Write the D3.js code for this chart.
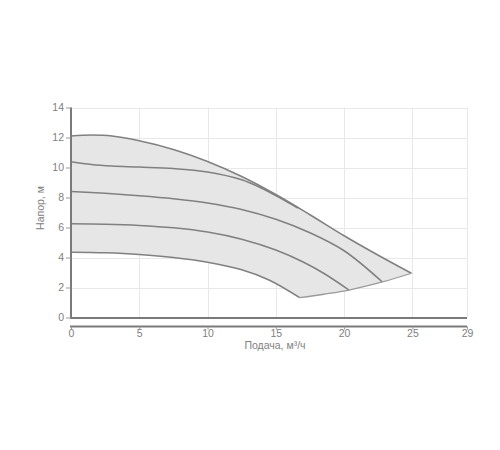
<!DOCTYPE html>
<html><head><meta charset="utf-8">
<script src="https://cdn.jsdelivr.net/npm/d3@7"></script>
<style>body{margin:0;background:#fff;} svg{display:block;font-family:"Liberation Sans",Arial,sans-serif;}</style>
</head><body><svg id="c" width="500" height="450"></svg>
<script>
// Data (flow m³/h, head m)
const xTicks = [0,5,10,15,20,25,29];
const yTicks = [0,2,4,6,8,10,12,14];
const curveTop = [[0,12.1],[1.5,12.16],[3,12.1],[5,11.78],[7.5,11.2],[10,10.4],[12.5,9.4],[15,8.2],[17.5,6.85],[20,5.45],[22.5,4.15],[24.93,2.95]];
const curve2 = [[0,10.38],[1.5,10.2],[3,10.1],[5,10.03],[7.5,9.93],[10,9.7],[12.5,9.18],[14,8.6],[15.5,7.87],[16.6,7.3]];
const curve3 = [[0,8.4],[2.5,8.28],[5,8.12],[7.5,7.92],[10,7.64],[12.5,7.2],[15,6.55],[17.5,5.65],[20,4.45],[22.8,2.37]];
const curve4 = [[0,6.25],[2.5,6.22],[5,6.14],[7.5,5.98],[10,5.7],[12.5,5.22],[15,4.5],[17,3.7],[18.5,2.95],[20.36,1.83]];
const curve5 = [[0,4.35],[2.5,4.31],[5,4.2],[7.5,4.0],[10,3.68],[12.5,3.18],[14.5,2.5],[16.75,1.32]];
const curveBottom = [[16.75,1.32],[18.5,1.55],[20.36,1.83],[22.8,2.37],[24.93,2.95]];
const xTitle = "Подача, м³/ч";
const yTitle = "Напор, м";

const svg = d3.select("#c");
const x = d3.scaleLinear().domain([0,29]).range([71,467]);
const y = d3.scaleLinear().domain([0,14]).range([317.5,107.5]);

// grid
const grid = svg.append("g").attr("stroke","#e8e8e8").attr("stroke-width",1);
grid.selectAll("line.h").data(yTicks.filter(d=>d>0)).join("line")
  .attr("x1",x(0)).attr("x2",x(29)).attr("y1",d=>Math.round(y(d))+0.5).attr("y2",d=>Math.round(y(d))+0.5);
grid.selectAll("line.v").data(xTicks.filter(d=>d>0)).join("line")
  .attr("x1",d=>Math.round(x(d))+0.5).attr("x2",d=>Math.round(x(d))+0.5).attr("y1",y(14)).attr("y2",y(0));

const line = d3.line().x(d=>x(d[0])).y(d=>y(d[1])).curve(d3.curveCatmullRom.alpha(0.5));
function sample(pts){
  const path = document.createElementNS("http://www.w3.org/2000/svg","path");
  path.setAttribute("d", line(pts));
  svg.node().appendChild(path);
  const L = path.getTotalLength(); const out=[];
  for(let i=0;i<=200;i++){const p=path.getPointAtLength(L*i/200); out.push([p.x,p.y]);}
  path.remove(); return out;
}
const poly = [[x(0),y(0)]].concat(sample(curveTop), sample(curveBottom).reverse(), sample(curve5).reverse());
svg.append("path").attr("d","M"+poly.map(p=>p.join(",")).join("L")+"Z").attr("fill","#e6e6e6");

// curves
const lines = svg.append("g").attr("fill","none").attr("stroke","#808080").attr("stroke-width",1.5);
[curve2, curve3, curve4, curve5, curveTop].forEach(c=>lines.append("path").attr("d",line(c)));
lines.append("path").attr("d",line(curveBottom)).attr("stroke","#9a9a9a").attr("stroke-width",1.3);

// plot bottom line and y axis
svg.append("line").attr("x1",x(0)-1).attr("x2",x(29)).attr("y1",318).attr("y2",318).attr("stroke","#7a7a7a").attr("stroke-width",2);

const yAxis = svg.append("g").attr("transform",`translate(${x(0)},0)`)
  .call(d3.axisLeft(y).tickValues(yTicks).tickSize(5).tickPadding(2));
yAxis.select(".domain").attr("d",`M0,${y(14)}V${y(0)+1}`).attr("stroke","#7a7a7a").attr("stroke-width",2);
yAxis.selectAll(".tick line").attr("stroke","#999");
yAxis.selectAll("text").attr("fill","#808080").attr("font-size","10.5px").attr("font-family","Liberation Sans, Arial, sans-serif");

const xAxis = svg.append("g").attr("transform","translate(0,326.5)")
  .call(d3.axisBottom(x).tickValues(xTicks).tickSize(3).tickPadding(0));
xAxis.select(".domain").attr("d",`M${x(0)-1},0H${x(29)}`).attr("stroke","#7a7a7a").attr("stroke-width",2);
xAxis.selectAll(".tick line").attr("stroke","#999");
xAxis.selectAll("text").attr("fill","#808080").attr("font-size","10.5px").attr("font-family","Liberation Sans, Arial, sans-serif");

svg.append("text").attr("x",275).attr("y",349).attr("text-anchor","middle")
  .attr("fill","#808080").attr("font-size","10.5px").text(xTitle);
svg.append("text").attr("transform","translate(44,208) rotate(-90)").attr("text-anchor","middle")
  .attr("fill","#808080").attr("font-size","10.5px").text(yTitle);
</script></body></html>
